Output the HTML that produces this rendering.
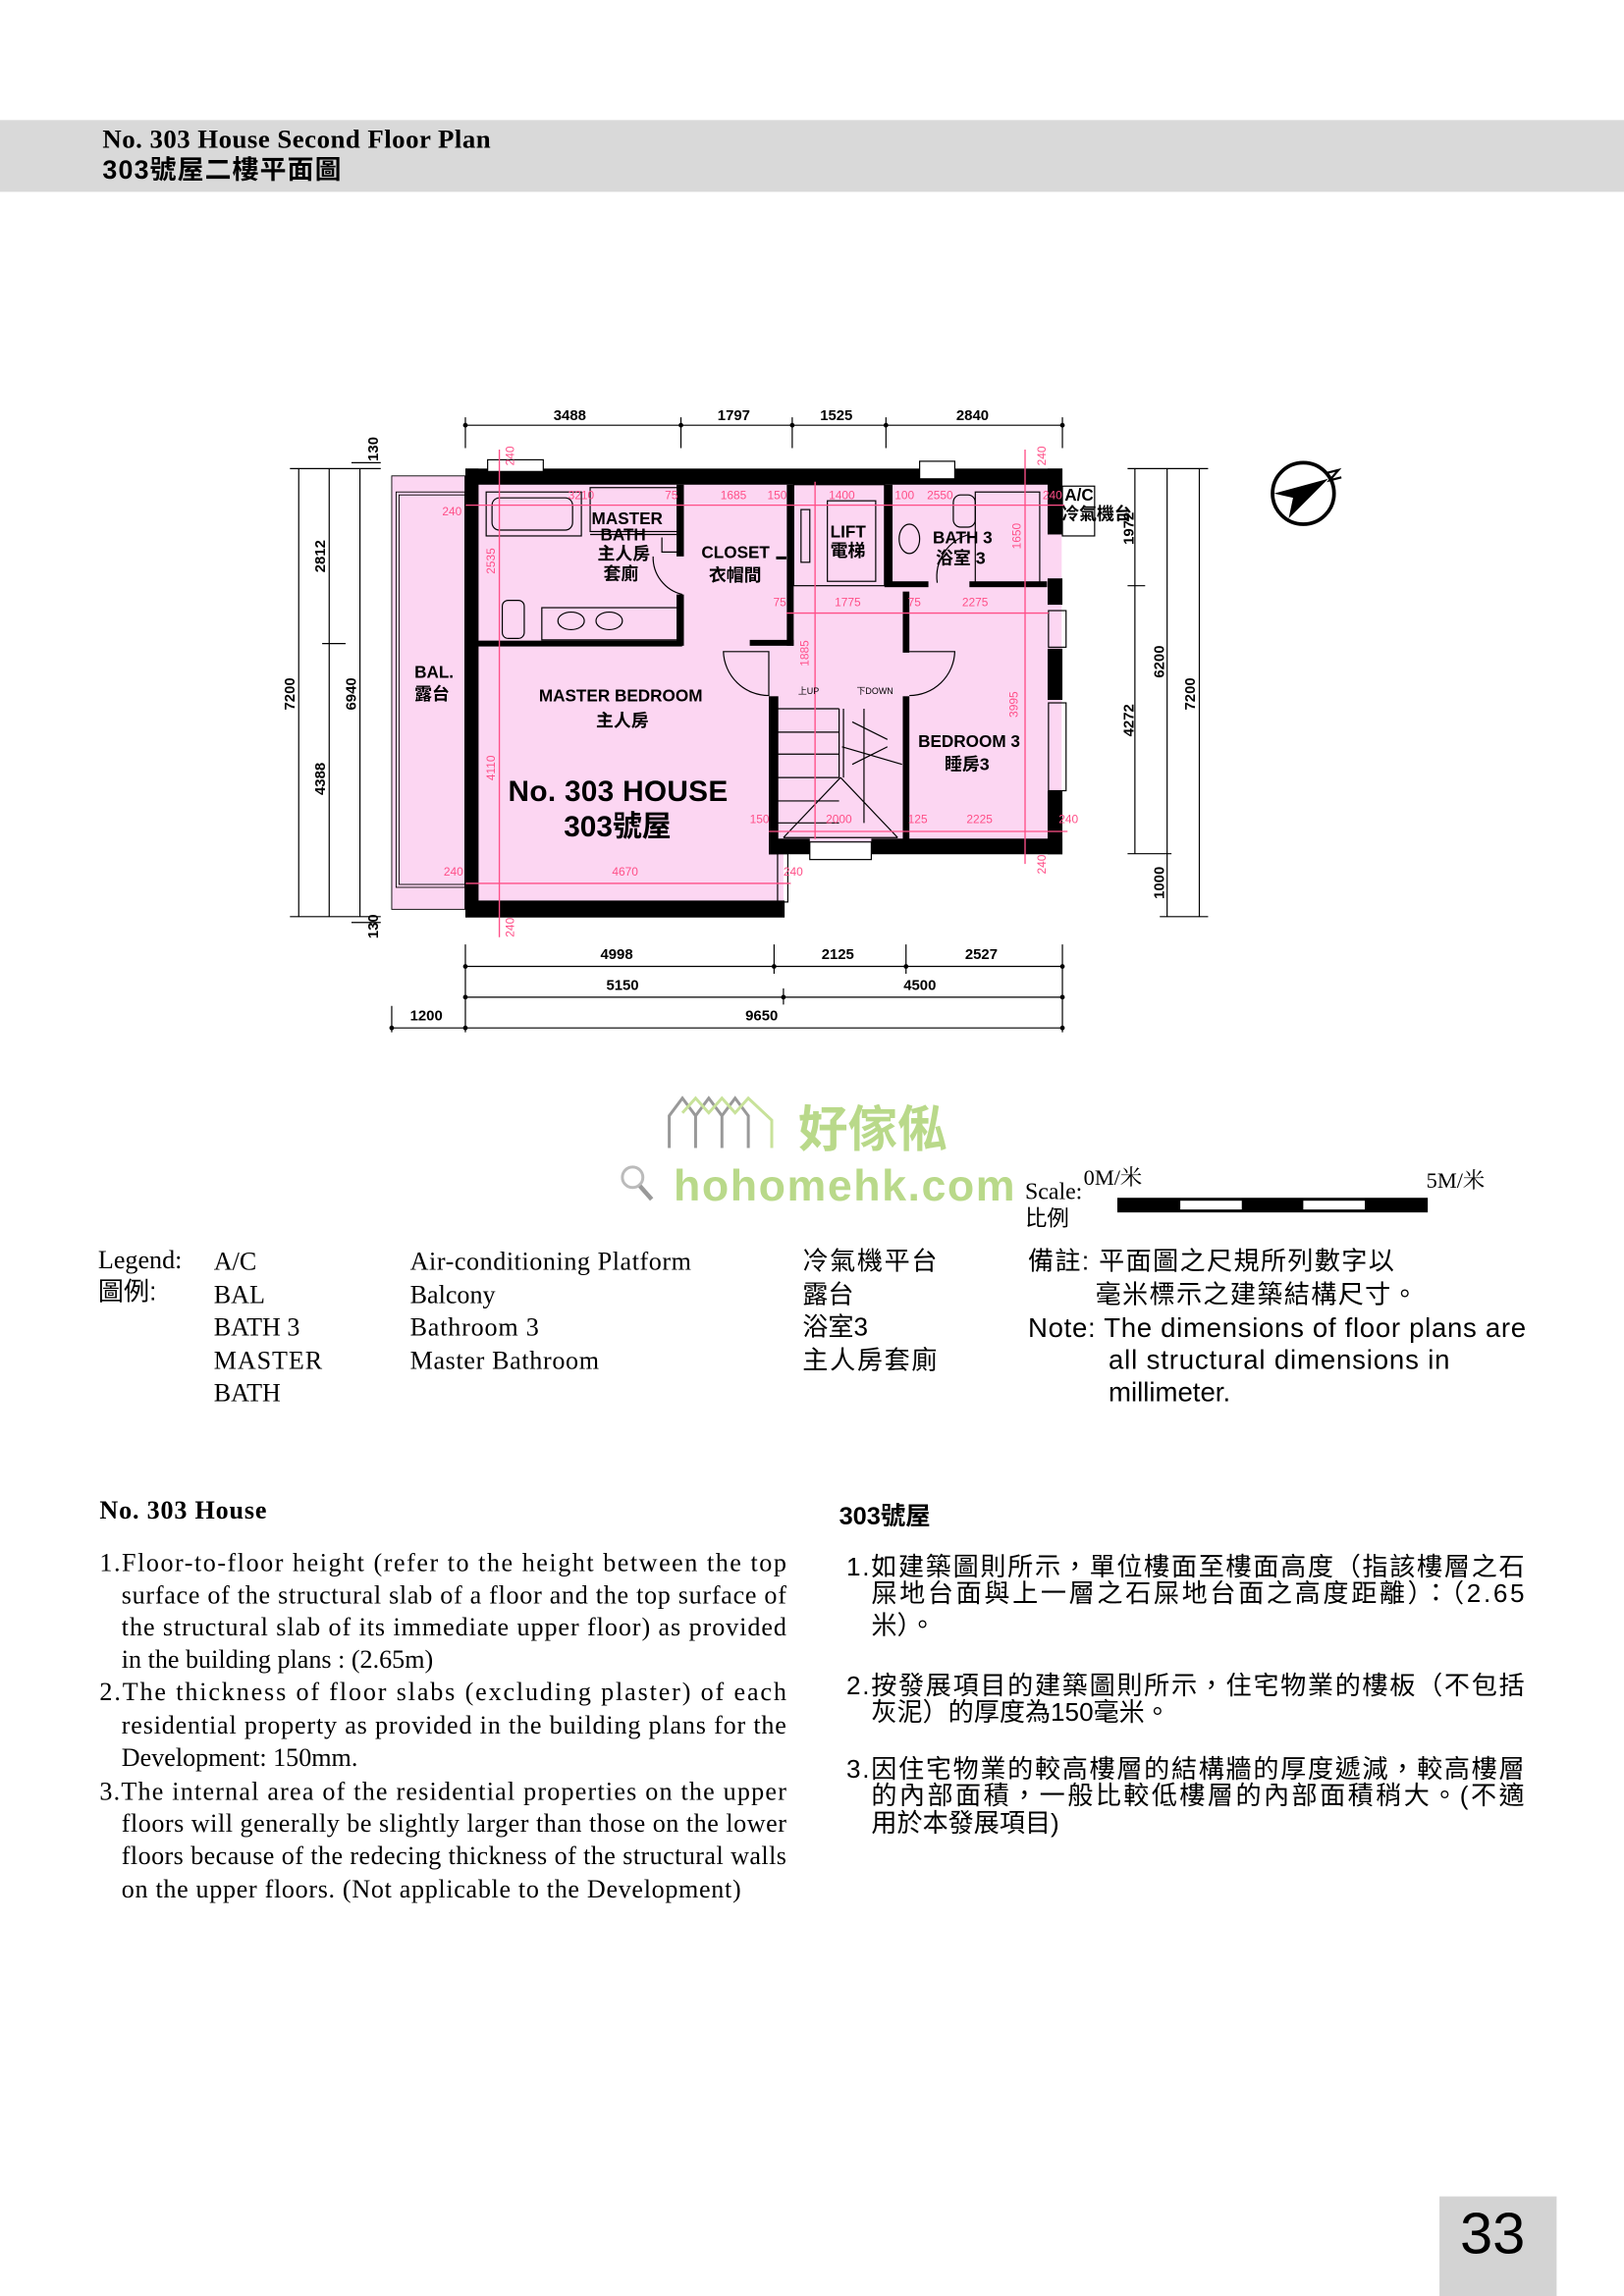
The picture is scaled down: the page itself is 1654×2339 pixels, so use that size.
<!DOCTYPE html>
<html><head><meta charset="utf-8"><style>
html,body{margin:0;padding:0;background:#fff}
svg{display:block}
.s{font-family:"Liberation Sans","Noto Sans CJK TC",sans-serif}
.r{font-family:"Liberation Serif","Noto Serif CJK SC",serif}
.p{fill:#ff4f88;font-family:"Liberation Sans",sans-serif;font-size:8px}
.d{font-family:"Liberation Sans",sans-serif;font-size:10px;font-weight:bold}
</style></head><body>
<svg width="1654" height="2339" viewBox="0 0 1109 1568" preserveAspectRatio="none" xmlns="http://www.w3.org/2000/svg">
<rect x="0" y="82" width="1109" height="49" fill="#d9d9d9"/>
<text x="70" y="101" class="r" font-size="18" font-weight="bold" textLength="265">No. 303 House Second Floor Plan</text>
<text x="70" y="122" class="s" font-size="18" font-weight="bold" textLength="163">303號屋二樓平面圖</text>

<!-- balcony -->
<rect x="267.5" y="325" width="50" height="296" fill="#fcd6f2" stroke="#000" stroke-width="0.6"/>
<rect x="270.5" y="336" width="47" height="270" fill="none" stroke="#000" stroke-width="0.6"/>
<rect x="272.5" y="338" width="45" height="266" fill="none" stroke="#000" stroke-width="0.6"/>
<!-- pink interior -->
<path d="M318 321 H725 V583 H535 V626 H318 Z" fill="#fcd6f2"/>
<!-- walls -->
<g fill="#000">
<rect x="317.8" y="320" width="407.7" height="11"/>
<rect x="317.8" y="320" width="9" height="306"/>
<rect x="317.8" y="615" width="218" height="11.6"/>
<rect x="715.4" y="320" width="10.1" height="45"/>
<rect x="715.4" y="395" width="10.1" height="18"/>
<rect x="715.4" y="443" width="10.1" height="35"/>
<rect x="715.4" y="540" width="10.1" height="43.4"/>
<rect x="525" y="572.7" width="28" height="10.7"/>
<rect x="595" y="572.7" width="130.5" height="10.7"/>
<rect x="525" y="475.5" width="6.5" height="108"/>
<rect x="616.5" y="475.5" width="4.5" height="100"/>
<rect x="616.5" y="404" width="4.5" height="41.7"/>
<rect x="317.8" y="437.5" width="148" height="4"/>
<rect x="462" y="331" width="5" height="49"/>
<rect x="462" y="406" width="5" height="35"/>
<rect x="537.3" y="331" width="4.7" height="110"/>
<rect x="512" y="437" width="30" height="4"/>
<rect x="604" y="331" width="5.5" height="69"/>
<rect x="604" y="397" width="30" height="4"/>
<rect x="662" y="397" width="53" height="4"/>
<rect x="530" y="380" width="7" height="2"/>
</g>
<!-- fixtures -->
<g fill="none" stroke="#000" stroke-width="0.8">
<rect x="332" y="336" width="65" height="30"/>
<rect x="336" y="340" width="55" height="22" rx="5"/>
<rect x="333" y="314" width="38" height="8" fill="#fff"/>
<rect x="403" y="333" width="60" height="30"/>
<path d="M403 365 H462 M452 367 V377 H467"/>
<path d="M446 380 A26 26 0 0 0 466 406"/>
<rect x="370" y="415" width="93" height="22"/>
<ellipse cx="390" cy="424" rx="9" ry="6"/><ellipse cx="416" cy="424" rx="9" ry="6"/>
<rect x="343" y="410" width="15" height="26" rx="4"/>
<rect x="547" y="348" width="6" height="36"/>
<rect x="565" y="342" width="33" height="55"/>
<rect x="542" y="331" width="62" height="69"/>
<ellipse cx="621" cy="368" rx="7" ry="10"/>
<rect x="651" y="338" width="15" height="22" rx="5"/>
<rect x="628" y="315" width="24" height="12" fill="#fff"/>
<rect x="666" y="336" width="44" height="62"/>
<rect x="386" y="321" width="10" height="9"/><path d="M386 321 L396 330 M396 321 L386 330"/>
<rect x="665" y="321" width="10" height="9"/><path d="M665 321 L675 330 M675 321 L665 330"/>
<path d="M662 365 A30 30 0 0 0 640 398"/>
<rect x="725.5" y="332" width="22" height="34" fill="#fff"/>
<rect x="716" y="417" width="12" height="25"/>
<rect x="716" y="480" width="12" height="60"/>
<!-- doors -->
<path d="M494 445 H525 V475 A31 31 0 0 1 494 445 Z" fill="#fcd6f2"/>
<path d="M621 445 H652 A31 31 0 0 1 621 475"/>
<!-- stair -->
<path d="M531 484 H573 M531 500 H573 M531 515 H573 M531 531 H573 M531 547 H573 M531 562 H573"/>
<path d="M573 484 V531 M576 484 V531 M590 484 V562"/>
<path d="M574 531 L535 572 M574 531 L613 572 M535 572 H613"/>
<path d="M582 493 L606 505 M582 522 L606 510 M575 510 L616 522"/>
<rect x="553" y="575" width="42" height="12" fill="#fff"/>
<rect x="531" y="583" width="7" height="33"/>
</g>
<!-- pink dimension lines -->
<g stroke="#ff4f88" stroke-width="0.9" fill="none">
<path d="M318 345 H727 M537 418.7 H716 M525 567.8 H729 M318 603.3 H540"/>
<path d="M341 307 V640 M556.6 329 V573 M700 307 V590"/>
</g>
<g class="p">
<text x="302" y="352">240</text><text x="388" y="341">3210</text><text x="454" y="341">75</text><text x="492" y="341">1685</text><text x="524" y="341">150</text><text x="566" y="341">1400</text><text x="611" y="341">100</text><text x="633" y="341">2550</text><text x="712" y="341">240</text>
<text x="528" y="414">75</text><text x="570" y="414">1775</text><text x="620" y="414">75</text><text x="657" y="414">2275</text>
<text x="512" y="562">150</text><text x="564" y="562">2000</text><text x="620" y="562">125</text><text x="660" y="562">2225</text><text x="723" y="562">240</text>
<text x="303" y="598">240</text><text x="418" y="598">4670</text><text x="535" y="598">240</text>
<text transform="translate(351,318) rotate(-90)">240</text><text transform="translate(351,640) rotate(-90)">240</text>
<text transform="translate(338,392) rotate(-90)">2535</text><text transform="translate(338,533) rotate(-90)">4110</text>
<text transform="translate(552,455) rotate(-90)">1885</text><text transform="translate(695,490) rotate(-90)">3995</text>
<text transform="translate(697,375) rotate(-90)">1650</text><text transform="translate(714,318) rotate(-90)">240</text><text transform="translate(714,597) rotate(-90)">240</text>
</g>
<!-- room labels -->
<g class="s" font-weight="bold" font-size="11.5">
<text x="404" y="358">MASTER</text><text x="410" y="369">BATH</text>
<text x="479" y="381">CLOSET</text><text x="567" y="367">LIFT</text>
<text x="637" y="371">BATH 3</text><text x="727" y="342">A/C</text>
<text x="283" y="463">BAL.</text><text x="368" y="479">MASTER BEDROOM</text>
<text x="627" y="510">BEDROOM 3</text>
</g>
<g class="s" font-size="12" font-weight="bold">
<text x="408" y="382">主人房</text><text x="412" y="396">套廁</text>
<text x="484" y="397">衣帽間</text><text x="567" y="380">電梯</text><text x="639" y="385">浴室 3</text>
<text x="725" y="355">冷氣機台</text><text x="283" y="478">露台</text><text x="407" y="496">主人房</text><text x="645" y="526">睡房3</text>
<text x="545" y="474" font-size="6" font-weight="normal">上UP</text><text x="585" y="474" font-size="6" font-weight="normal">下DOWN</text>
</g>
<text x="347" y="547" class="s" font-size="20" font-weight="bold" textLength="150">No. 303 HOUSE</text>
<text x="385" y="571" class="s" font-size="20" font-weight="bold">303號屋</text>

<!-- outer dims -->
<g stroke="#000" stroke-width="0.8" fill="none">
<path d="M317.8 290.4 H725.5"/>
<path d="M317.8 285 V306 M465 285 V306 M541 285 V306 M605 285 V306 M725.5 285 V306"/>
<path d="M204 320 V626 M224.8 320 V626 M245.8 320 V626"/>
<path d="M198 320 H260 M198 626 H260 M220 439.5 H236 M240 316 H260 M240 630 H260"/>
<path d="M775 320 V583 M797 320 V626 M819 320 V626 M770 320 H825 M770 400 H782 M770 583 H800 M792 626 H825"/>
<path d="M317.8 660 H725.5 M317.8 681 H725.5 M267.5 702 H725.5"/>
<path d="M317.8 645 V705 M528.6 645 V665 M618.7 645 V665 M725.5 645 V705 M535 675 V686 M267.5 687 V705"/>
</g>
<g fill="#000">
<circle cx="317.8" cy="290.4" r="1.6"/><circle cx="465" cy="290.4" r="1.6"/><circle cx="541" cy="290.4" r="1.6"/><circle cx="605" cy="290.4" r="1.6"/><circle cx="725.5" cy="290.4" r="1.6"/>
<circle cx="317.8" cy="660" r="1.6"/><circle cx="528.6" cy="660" r="1.6"/><circle cx="618.7" cy="660" r="1.6"/><circle cx="725.5" cy="660" r="1.6"/>
<circle cx="317.8" cy="681" r="1.6"/><circle cx="535" cy="681" r="1.6"/><circle cx="725.5" cy="681" r="1.6"/>
<circle cx="267.5" cy="702" r="1.6"/><circle cx="317.8" cy="702" r="1.6"/><circle cx="725.5" cy="702" r="1.6"/>
</g>
<g class="d">
<text x="378" y="287">3488</text><text x="490" y="287">1797</text><text x="560" y="287">1525</text><text x="653" y="287">2840</text>
<text x="410" y="655">4998</text><text x="561" y="655">2125</text><text x="659" y="655">2527</text>
<text x="414" y="676">5150</text><text x="617" y="676">4500</text>
<text x="280" y="697">1200</text><text x="509" y="697">9650</text>
<text transform="translate(201,485) rotate(-90)">7200</text>
<text transform="translate(222,391) rotate(-90)">2812</text>
<text transform="translate(222,543) rotate(-90)">4388</text>
<text transform="translate(243,485) rotate(-90)">6940</text>
<text transform="translate(258,315) rotate(-90)">130</text>
<text transform="translate(258,641) rotate(-90)">130</text>
<text transform="translate(774,372) rotate(-90)">1972</text>
<text transform="translate(774,503) rotate(-90)">4272</text>
<text transform="translate(795,463) rotate(-90)">6200</text>
<text transform="translate(795,614) rotate(-90)">1000</text>
<text transform="translate(816,485) rotate(-90)">7200</text>
</g>
<!-- compass -->
<circle cx="890" cy="337" r="21" fill="none" stroke="#000" stroke-width="2.5"/>
<path d="M907 327 L870 337 L883 340 L880 354 Z" fill="#000"/>
<path d="M906 323 L914 321 L908 328 L916 326" fill="none" stroke="#000" stroke-width="1.5"/>

<!-- watermark -->
<g stroke="#999" stroke-width="2" fill="none"><path d="M457 784 V762 L466 750 L475 762 V784 M475 762 L484 750 L493 762 V784 M493 762 L502 750 L511 762 V784"/></g>
<g stroke="#c8e29a" stroke-width="2" fill="none"><path d="M466 760 L475 750 L484 760 L493 750 L502 760 L511 750 L527 765 V784"/></g>
<text x="545" y="783" class="s" font-size="34" font-weight="bold" fill="#b9d98a">好傢俬</text>
<circle cx="432" cy="804" r="7" fill="none" stroke="#bbb" stroke-width="2"/><path d="M437 810 L445 819" stroke="#999" stroke-width="3"/>
<text x="460" y="820" class="s" font-size="30" font-weight="bold" fill="#b9d98a" textLength="233">hohomehk.com</text>

<!-- scale -->
<text x="700" y="819" class="r" font-size="16">Scale:</text>
<text x="700" y="837" class="s" font-size="15">比例</text>
<text x="740" y="809" class="r" font-size="15">0M/米</text>
<text x="974" y="811" class="r" font-size="15">5M/米</text>
<rect x="763" y="818" width="212" height="10" fill="#000"/>
<rect x="806" y="820" width="42" height="6" fill="#fff"/><rect x="890" y="820" width="42" height="6" fill="#fff"/>

<!-- legend -->
<g class="r" font-size="17.5">
<text x="67" y="866">Legend:</text>
<text x="146" y="867">A/C</text><text x="146" y="890">BAL</text><text x="146" y="912">BATH 3</text><text x="146" y="935" textLength="74">MASTER</text><text x="146" y="957">BATH</text>
<text x="280" y="867" textLength="192">Air-conditioning Platform</text><text x="280" y="890">Balcony</text><text x="280" y="912" textLength="88">Bathroom 3</text><text x="280" y="935" textLength="129">Master Bathroom</text>
</g>
<g class="s" font-size="17.5">
<text x="67" y="888">圖例:</text>
<text x="548" y="867" textLength="92">冷氣機平台</text><text x="548" y="890">露台</text><text x="548" y="912">浴室3</text><text x="548" y="935" textLength="92">主人房套廁</text>
<text x="702" y="867" textLength="250">備註: 平面圖之尺規所列數字以</text>
<text x="748" y="890" textLength="220">毫米標示之建築結構尺寸。</text>
<text x="702" y="913" font-size="18.5" textLength="340">Note: The dimensions of floor plans are</text>
<text x="757" y="935" font-size="18.5" textLength="233">all structural dimensions in</text>
<text x="757" y="957" font-size="18.5">millimeter.</text>
</g>

<!-- notes -->
<text x="68" y="1037" class="r" font-size="17.5" font-weight="bold" textLength="114">No. 303 House</text>
<g class="r" font-size="17.5">
<text x="68" y="1073" textLength="469" lengthAdjust="spacing">1.Floor-to-floor height (refer to the height between the top</text>
<text x="83" y="1095" textLength="454">surface of the structural slab of a floor and the top surface of</text>
<text x="83" y="1117" textLength="454">the structural slab of its immediate upper floor) as provided</text>
<text x="83" y="1139">in the building plans : (2.65m)</text>
<text x="68" y="1161" textLength="469">2.The thickness of floor slabs (excluding plaster) of each</text>
<text x="83" y="1184" textLength="454">residential  property as provided in the building plans for the</text>
<text x="83" y="1206">Development: 150mm.</text>
<text x="68" y="1229" textLength="469">3.The internal area of the residential properties on the upper</text>
<text x="83" y="1251" textLength="454">floors will generally be slightly larger than those on the lower</text>
<text x="83" y="1273" textLength="454">floors because of the redecing thickness of the structural walls</text>
<text x="83" y="1296" textLength="423">on the upper floors. (Not applicable to the Development)</text>
</g>
<text x="573" y="1041" class="s" font-size="17" font-weight="bold">303號屋</text>
<g class="s" font-size="17.5">
<text x="578" y="1076" textLength="463">1.如建築圖則所示，單位樓面至樓面高度（指該樓層之石</text>
<text x="595" y="1094" textLength="446">屎地台面與上一層之石屎地台面之高度距離）：（2.65</text>
<text x="595" y="1116">米）。</text>
<text x="578" y="1157" textLength="463">2.按發展項目的建築圖則所示，住宅物業的樓板（不包括</text>
<text x="595" y="1175">灰泥）的厚度為150毫米。</text>
<text x="578" y="1214" textLength="463">3.因住宅物業的較高樓層的結構牆的厚度遞減，較高樓層</text>
<text x="595" y="1232" textLength="446">的內部面積，一般比較低樓層的內部面積稍大。(不適</text>
<text x="595" y="1251">用於本發展項目)</text>
</g>

<rect x="983" y="1500" width="80" height="68" fill="#d3d3d3"/>
<text x="997" y="1539" class="s" font-size="40">33</text>
</svg>
</body></html>
